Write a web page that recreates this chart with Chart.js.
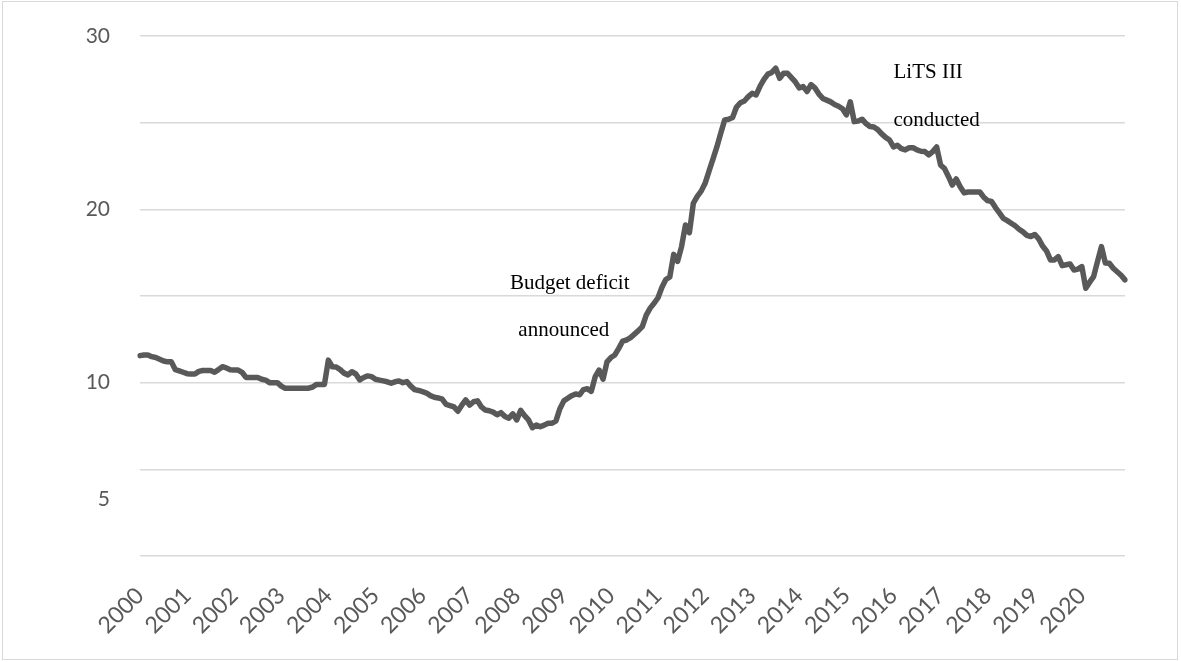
<!DOCTYPE html>
<html>
<head>
  <title>Monthly series 2000-2020</title>
  <script src="https://cdn.jsdelivr.net/npm/chart.js"></script>
  <style>
    body {
      margin: 0;
      background: #ffffff;
    }
    #wrap {
      position: relative;
      width: 1181px;
      height: 662px;
    }
    #frame {
      position: absolute;
      left: 2px;
      top: 1px;
      width: 1176px;
      height: 659px;
      border: 1px solid #d9d9d9;
      box-sizing: border-box;
      pointer-events: none;
    }
  </style>
</head>
<body>
  <div id="wrap">
    <canvas id="chart" width="1181" height="662"></canvas>
    <div id="frame"></div>
  </div>

  <script>
    // year labels, one per January
    var years = ["2000", "2001", "2002", "2003", "2004", "2005", "2006", "2007", "2008", "2009", "2010",
                 "2011", "2012", "2013", "2014", "2015", "2016", "2017", "2018", "2019", "2020"];

    // monthly values, one array per year
    var y2000 = [11.56, 11.6, 11.6, 11.5, 11.45, 11.35, 11.25, 11.2, 11.2, 10.75, 10.68, 10.6];
    var y2001 = [10.52, 10.5, 10.5, 10.65, 10.7, 10.7, 10.7, 10.6, 10.75, 10.92, 10.85, 10.75];
    var y2002 = [10.73, 10.73, 10.6, 10.3, 10.3, 10.3, 10.3, 10.2, 10.15, 10.0, 10.0, 10.0];
    var y2003 = [9.8, 9.68, 9.68, 9.68, 9.68, 9.68, 9.68, 9.68, 9.75, 9.9, 9.9, 9.9];
    var y2004 = [11.3, 10.92, 10.9, 10.75, 10.55, 10.45, 10.63, 10.5, 10.16, 10.3, 10.39, 10.35];
    var y2005 = [10.2, 10.15, 10.1, 10.05, 9.97, 10.05, 10.1, 10.0, 10.06, 9.8, 9.6, 9.55];
    var y2006 = [9.48, 9.4, 9.25, 9.16, 9.12, 9.05, 8.75, 8.68, 8.6, 8.35, 8.7, 9.0];
    var y2007 = [8.71, 8.9, 8.95, 8.6, 8.42, 8.38, 8.3, 8.15, 8.27, 8.05, 7.95, 8.2];
    var y2008 = [7.85, 8.4, 8.1, 7.85, 7.4, 7.56, 7.46, 7.55, 7.66, 7.66, 7.8, 8.5];
    var y2009 = [8.95, 9.1, 9.25, 9.35, 9.3, 9.6, 9.65, 9.5, 10.35, 10.73, 10.2, 11.2];
    var y2010 = [11.45, 11.6, 11.98, 12.4, 12.46, 12.6, 12.8, 13.0, 13.23, 13.9, 14.3, 14.58];
    var y2011 = [14.9, 15.5, 15.95, 16.1, 17.4, 17.0, 17.85, 19.1, 18.65, 20.35, 20.75, 21.05];
    var y2012 = [21.5, 22.2, 22.9, 23.6, 24.4, 25.16, 25.2, 25.3, 25.9, 26.15, 26.25, 26.5];
    var y2013 = [26.7, 26.6, 27.1, 27.5, 27.8, 27.9, 28.14, 27.56, 27.85, 27.85, 27.6, 27.35];
    var y2014 = [27.0, 27.08, 26.8, 27.2, 27.0, 26.65, 26.4, 26.3, 26.2, 26.05, 25.95, 25.8];
    var y2015 = [25.45, 26.2, 25.06, 25.1, 25.2, 24.95, 24.78, 24.75, 24.6, 24.35, 24.15, 24.0];
    var y2016 = [23.6, 23.7, 23.5, 23.43, 23.55, 23.55, 23.43, 23.35, 23.33, 23.14, 23.33, 23.6];
    var y2017 = [22.56, 22.35, 21.9, 21.4, 21.75, 21.3, 20.95, 21.0, 21.0, 21.0, 21.0, 20.7];
    var y2018 = [20.5, 20.45, 20.1, 19.8, 19.48, 19.35, 19.2, 19.05, 18.85, 18.7, 18.5, 18.43];
    var y2019 = [18.55, 18.3, 17.88, 17.6, 17.08, 17.08, 17.27, 16.75, 16.8, 16.85, 16.5, 16.55];
    var y2020 = [16.7, 15.45, 15.8, 16.12, 17.0, 17.85, 16.9, 16.89, 16.6, 16.4, 16.2, 15.93];

    // gridlines and the labels shown on the value axis ("5" sits off its gridline in the original)
    var yGrid = [0, 5, 10, 15, 20, 25, 30];
    var yLabels = [[30, "30"], [20, "20"], [10, "10"], [3.25, "5"]];

    // text notes: month index, value, text, alignment
    var notes = [
      [109.5, 15.75, "Budget deficit", "center"],
      [108, 13.0, "announced", "center"],
      [192, 27.9, "LiTS III", "left"],
      [192, 25.15, "conducted", "left"]
    ];

    var values = [].concat(y2000, y2001, y2002, y2003, y2004, y2005, y2006, y2007, y2008, y2009, y2010,
                           y2011, y2012, y2013, y2014, y2015, y2016, y2017, y2018, y2019, y2020);
    var labels = [];
    for (var i = 0; i < years.length; i++) {
      for (var m = 1; m <= 12; m++) {
        labels.push(years[i] + "-" + m);
      }
    }

    var tickValues = yGrid.slice();
    yLabels.forEach(function (p) {
      if (tickValues.indexOf(p[0]) < 0) tickValues.push(p[0]);
    });
    tickValues.sort(function (a, b) { return a - b; });

    var notesPlugin = {
      id: "notes",
      afterDatasetsDraw: function (chart) {
        var c = chart.ctx;
        var xs = chart.scales.x, ys = chart.scales.y;
        c.save();
        c.font = "21px 'Liberation Serif', serif";
        c.fillStyle = "#000000";
        c.textBaseline = "middle";
        notes.forEach(function (n) {
          c.textAlign = n[3];
          c.fillText(n[2], xs.getPixelForValue(n[0]), ys.getPixelForValue(n[1]));
        });
        c.restore();
      }
    };

    var ctx = document.getElementById("chart").getContext("2d");
    var chart = new Chart(ctx, {
      type: "line",
      data: {
        labels: labels,
        datasets: [{
          data: values,
          borderColor: "#595959",
          borderWidth: 5.5,
          pointRadius: 0,
          fill: false,
          tension: 0,
          borderJoinStyle: "round",
          borderCapStyle: "round"
        }]
      },
      options: {
        responsive: false,
        animation: false,
        layout: {
          padding: { left: 0, right: 56, top: 36, bottom: 0 }
        },
        plugins: {
          legend: { display: false },
          tooltip: { enabled: false }
        },
        scales: {
          x: {
            offset: false,
            grid: { display: false },
            border: { display: false },
            ticks: {
              autoSkip: false,
              minRotation: 45,
              maxRotation: 45,
              padding: 18,
              color: "#595959",
              font: { family: "Lato", size: 23 },
              callback: function (val, idx) {
                return idx % 12 === 0 ? years[idx / 12] : "";
              }
            },
            afterFit: function (scale) {
              scale.height = 106;
            }
          },
          y: {
            min: 0,
            max: 30,
            border: { display: false },
            grid: {
              drawTicks: false,
              lineWidth: 1.5,
              color: function (c) {
                return yGrid.indexOf(c.tick.value) >= 0 ? "#d9d9d9" : "rgba(0,0,0,0)";
              }
            },
            ticks: {
              padding: 30,
              color: "#595959",
              font: { family: "Lato", size: 21 },
              callback: function (val) {
                for (var k = 0; k < yLabels.length; k++) {
                  if (yLabels[k][0] === val) return yLabels[k][1];
                }
                return "";
              }
            },
            afterBuildTicks: function (scale) {
              scale.ticks = tickValues.map(function (v) { return { value: v }; });
            },
            afterFit: function (scale) {
              scale.width = 140;
              scale.paddingTop = 0;
              scale.paddingBottom = 0;
            }
          }
        }
      },
      plugins: [notesPlugin]
    });
  </script>
</body>
</html>
